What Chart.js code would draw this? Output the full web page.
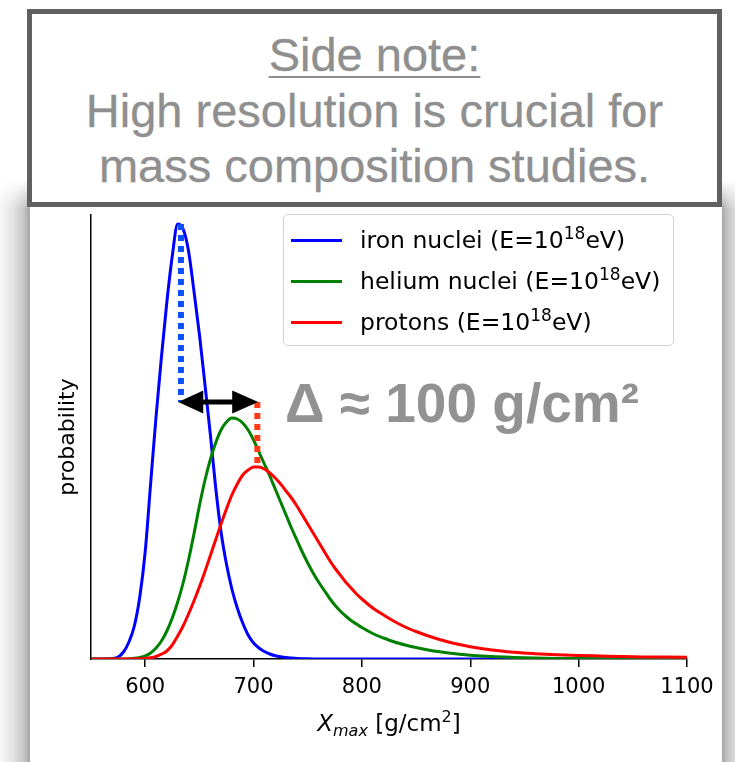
<!DOCTYPE html>
<html><head><meta charset="utf-8">
<script src="https://cdn.jsdelivr.net/npm/chart.js@4.4.1/dist/chart.umd.min.js"></script>
<style>
html,body{margin:0;padding:0;background:#fff;}
#stage{position:relative;width:735px;height:762px;overflow:hidden;background:#fff;}
#shL{position:absolute;left:0;top:180px;width:30px;height:600px;background:linear-gradient(to right,#f7f7f7 0%,#e2e2e2 45%,#c4c4c4 80%,#a4a4a4 100%);-webkit-mask-image:linear-gradient(to bottom,transparent 0,#000 30px);mask-image:linear-gradient(to bottom,transparent 0,#000 30px);}
#shR{position:absolute;left:722px;top:180px;width:13px;height:600px;background:linear-gradient(to right,#a8a8a8 0%,#c2c2c2 40%,#dadada 100%);-webkit-mask-image:linear-gradient(to bottom,transparent 0,#000 30px);mask-image:linear-gradient(to bottom,transparent 0,#000 30px);}
#panel{position:absolute;left:30px;top:190px;width:692px;height:640px;background:#fff;}
#cv{position:absolute;left:0;top:0;}
#note{position:absolute;left:27px;top:9px;width:685px;height:188px;border:5px solid #606060;background:#fff;}
.nl{position:absolute;left:0;width:100%;text-align:center;font-family:"Liberation Sans",Arial,Helvetica,sans-serif;font-size:47px;line-height:46px;color:#8f8f8f;-webkit-text-stroke:0.3px #8f8f8f;white-space:nowrap;}
.nl u{text-decoration-thickness:2px;text-underline-offset:5px;}
#legend{position:absolute;left:283px;top:214px;width:389px;height:130px;border:1.5px solid #d2d2d2;border-radius:5px;background:rgba(255,255,255,0.85);}
.lrow{position:absolute;left:0;height:30px;width:100%;}
.sw{position:absolute;left:7px;width:51px;height:3px;top:14px;}
.lt{position:absolute;left:76px;top:0;font-family:"DejaVu Sans",sans-serif;font-size:23.5px;line-height:30px;color:#000;white-space:nowrap;}
.lt sup{font-size:17px;vertical-align:0;position:relative;top:-9px;}
#delta{position:absolute;left:285px;top:376px;font-family:"Liberation Sans",Arial,Helvetica,sans-serif;font-weight:bold;font-size:55px;line-height:54px;color:#929292;white-space:nowrap;}
#xtitle{position:absolute;left:0;width:778px;top:708px;text-align:center;font-family:"DejaVu Sans",sans-serif;font-size:23px;line-height:30px;color:#000;white-space:nowrap;}
#xtitle sub{font-size:16px;vertical-align:0;position:relative;top:5px;font-style:italic;}
#xtitle sup{font-size:16px;vertical-align:0;position:relative;top:-9px;}
</style></head>
<body>
<div id="stage">
  <div id="shL"></div><div id="shR"></div>
  <div id="panel"></div>
  <canvas id="cv" width="735" height="762"></canvas>
  <div id="legend">
    <div class="lrow" style="top:10px"><div class="sw" style="background:#0000ff"></div><div class="lt">iron nuclei (E=10<sup>18</sup>eV)</div></div>
    <div class="lrow" style="top:51px"><div class="sw" style="background:#008000"></div><div class="lt">helium nuclei (E=10<sup>18</sup>eV)</div></div>
    <div class="lrow" style="top:92px"><div class="sw" style="background:#ff0000"></div><div class="lt">protons (E=10<sup>18</sup>eV)</div></div>
  </div>
  <div id="delta">Δ ≈ 100 g/cm²</div>
  <div id="xtitle"><i>X</i><sub>max</sub> [g/cm<sup>2</sup>]</div>
  <div id="note">
    <div class="nl" style="top:18px"><u>Side note:</u></div>
    <div class="nl" style="top:74px">High resolution is crucial for</div>
    <div class="nl" style="top:129px">mass composition studies.</div>
  </div>
</div>
<script>
// X_max grid (g/cm^2)
const xGrid = [550,560,570,575,580,585,590,595,600,605,610,615,620,625,630,635,640,645,650,655,660,665,670,675,680,685,690,695,700,705,710,715,720,725,730,735,740,745,750,755,760,765,770,775,780,785,790,795,800,810,820,830,840,850,860,870,880,890,900,920,940,960,980,1000,1020,1040,1060,1080,1100];
// relative probability (arbitrary units)
const ironVals = [0,0,0.5,2,7,17,33,62,107,175,242,302,357,403,435,430,408,368,325,276,226,172,127,95,70,51,36,24,16,11,7.5,5,3.3,2.2,1.4,0.9,0.5,0.3,0.2,0.1,0,0,0,0,0,0,0,0,0,0,0,0,0,0,0,0,0,0,0,0,0,0,0,0,0,0,0,0,0];
const heliumVals = [0,0,0,0,0.1,0.3,0.7,1.5,3,6,11,18,28,41,57,76,99,125,153,178,199,216,229,237,241,240,236,229,219,207,195,183,170,157,144,131,119,107,96,86,77,69,61,54,48,43,38.5,35,31.5,25.5,21,17,14,11.5,9.3,7.5,6,4.8,3.8,2.4,1.6,1,0.6,0.4,0.25,0.15,0.1,0.05,0];
const protonVals = [0,0,0,0,0,0,0.1,0.2,0.5,1.2,2.5,4.8,8,14,23,33,45,58,72,87,103,119,135,150,164,175,184,189,192,192,190,186,181,175,168,161,153,144,135,126,117,108,99,91,84,77,71,65,60,51,44,37.5,32,27.5,23.5,20,17,14.5,12.3,9,6.8,5.3,4.2,3.5,3,2.5,2.1,1.9,1.7];
const xTickValues = [600,700,800,900,1000,1100];
const seriesNames = ['iron nuclei (E=10^18 eV)','helium nuclei (E=10^18 eV)','protons (E=10^18 eV)'];
// annotation values (data units)
const ironPeakX = 633, ironPeakY = 435;
const protonPeakX = 703.5, protonPeakY = 191;
const arrowLevel = 257, arrowFrom = 630.5, arrowTo = 704.3;

const pts = v => xGrid.map((x,i)=>({x:x,y:v[i]}));

const annot = {
  id:'annot',
  afterDatasetsDraw(chart){
    const {ctx, scales:{x,y}} = chart;
    ctx.save();
    ctx.lineCap='butt';
    ctx.lineWidth=6;
    ctx.setLineDash([6,5]);
    ctx.strokeStyle='#0a50ff';
    ctx.beginPath();
    ctx.moveTo(x.getPixelForValue(ironPeakX), y.getPixelForValue(ironPeakY));
    ctx.lineTo(x.getPixelForValue(ironPeakX), y.getPixelForValue(arrowLevel));
    ctx.stroke();
    ctx.strokeStyle='#ff3a14';
    ctx.beginPath();
    ctx.moveTo(x.getPixelForValue(protonPeakX), y.getPixelForValue(arrowLevel));
    ctx.lineTo(x.getPixelForValue(protonPeakX), y.getPixelForValue(protonPeakY));
    ctx.stroke();
    ctx.setLineDash([]);
    const x1 = x.getPixelForValue(arrowFrom), x2 = x.getPixelForValue(arrowTo), yy = y.getPixelForValue(arrowLevel);
    ctx.strokeStyle='#000'; ctx.fillStyle='#000'; ctx.lineWidth=5;
    ctx.beginPath(); ctx.moveTo(x1+20,yy); ctx.lineTo(x2-20,yy); ctx.stroke();
    ctx.beginPath(); ctx.moveTo(x1,yy); ctx.lineTo(x1+25,yy-11.5); ctx.lineTo(x1+25,yy+11.5); ctx.closePath(); ctx.fill();
    ctx.beginPath(); ctx.moveTo(x2,yy); ctx.lineTo(x2-26,yy-11.5); ctx.lineTo(x2-26,yy+11.5); ctx.closePath(); ctx.fill();
    ctx.restore();
  }
};

const common = {pointRadius:0, borderWidth:3, fill:false, cubicInterpolationMode:'monotone'};
new Chart(document.getElementById('cv'), {
  type:'line',
  data:{datasets:[
    Object.assign({label:seriesNames[0], data:pts(ironVals), borderColor:'#0000ff', order:3}, common),
    Object.assign({label:seriesNames[1], data:pts(heliumVals), borderColor:'#008000', order:2}, common),
    Object.assign({label:seriesNames[2], data:pts(protonVals), borderColor:'#ff0000', order:1}, common)
  ]},
  options:{
    responsive:false, animation:false, devicePixelRatio:1,
    layout:{padding:{left:0,top:215,right:48,bottom:0}},
    plugins:{legend:{display:false}, tooltip:{enabled:false}},
    scales:{
      x:{type:'linear', min:550, max:1100,
        afterBuildTicks:s=>{s.ticks = xTickValues.map(v=>({value:v}));},
        afterFit:s=>{s.height=103;},
        grid:{display:true, drawOnChartArea:false, drawTicks:true, tickLength:8, color:'#000', lineWidth:1.5},
        border:{display:true, color:'#000', width:1.5},
        ticks:{color:'#000', font:{family:'DejaVu Sans', size:21}, padding:8, maxRotation:0, autoSkip:false, callback:v=>String(v)},
        title:{display:false}
      },
      y:{type:'linear', min:0, max:444,
        afterFit:s=>{s.width=91;},
        grid:{display:false},
        border:{display:true, color:'#000', width:1.5},
        ticks:{display:false},
        title:{display:true, text:'probability', color:'#000', font:{family:'DejaVu Sans', size:22}, padding:{top:55,bottom:0}}
      }
    }
  },
  plugins:[annot]
});
</script>
</body></html>
